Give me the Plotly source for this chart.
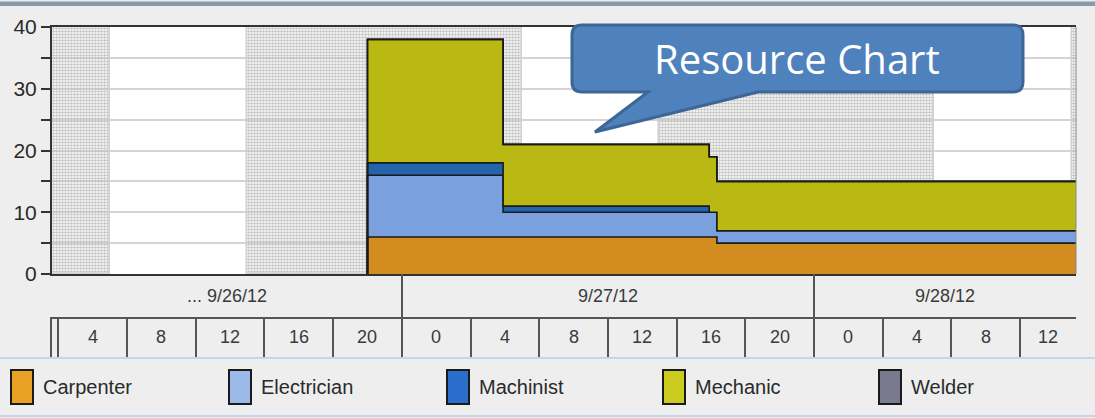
import numpy as np
import plotly.graph_objects as go

# ---------------- data ----------------
resources = ["Carpenter", "Electrician", "Machinist", "Mechanic", "Welder"]
# step boundaries, in hours relative to 9/27/12 00:00
step_start = [-2.0, 5.9, 17.9, 18.35]
window_end = 40.0
carpenter = [6, 6, 6, 5]
electrician = [10, 4, 4, 2]
machinist = [2, 1, 0, 0]
mechanic = [20, 10, 9, 8]
welder = [0, 0, 0, 0]

# non-working periods (hatched background), hours relative to 9/27/12 00:00
offhours_start = [-24, -9, 15, 39]
offhours_end = [-17, 7, 31, 48]

day_starts = [-24, 0, 24]
day_labels = ["... 9/26/12", "9/27/12", "9/28/12"]
hour_ticks = [-20, -16, -12, -8, -4, 0, 4, 8, 12, 16, 20, 24, 28, 32, 36]
hour_labels = ["4", "8", "12", "16", "20", "0", "4", "8", "12", "16", "20", "0", "4", "8", "12"]

x_range = [-20.37, 39.26]
y_range = [0, 40]

fill_colors = ["#D28C20", "#7AA0DE", "#2364AA", "#BAB914", "#76768A"]
legend_colors = ["#E8A025", "#9DB9EA", "#2A6DCB", "#CACB1E", "#7A7A8F"]

# ---------------- layout helpers ----------------
W, H = 1095, 418
ML, MR, MT, MB = 52, 19, 27, 61
PW = W - ML - MR
PH = H - MT - MB


def pxx(x):
    return (x - ML) / PW


def pxy(y):
    return (H - MB - y) / PH


FONT = "Liberation Sans, Arial, sans-serif"

fig = go.Figure()

# hatched non-working bands
mids = [(a + b) / 2 for a, b in zip(offhours_start, offhours_end)]
widths = [b - a for a, b in zip(offhours_start, offhours_end)]
fig.add_trace(go.Bar(
    x=mids, y=[y_range[1]] * len(mids), width=widths, base=0,
    marker=dict(color="rgba(255,255,255,0)",
                line=dict(color="#d0d0d0", width=1.5),
                pattern=dict(shape=".", size=3, solidity=0.55,
                             fgcolor="#c4c4c4", bgcolor="rgba(255,255,255,0)",
                             fillmode="replace")),
    showlegend=False, hoverinfo="skip", xaxis="x", yaxis="y"))

# stacked step areas
series = [carpenter, electrician, machinist, mechanic, welder]
x_pts = [step_start[0]] + step_start + [window_end]
cum = np.zeros(len(step_start))
for i, (name, vals, col) in enumerate(zip(resources, series, fill_colors)):
    cum = cum + np.array(vals, dtype=float)
    y_pts = [0.0] + list(cum) + [cum[-1]]
    fig.add_trace(go.Scatter(
        x=x_pts, y=y_pts, mode="lines", name=name,
        line=dict(shape="hv", color="#1a1a1a", width=1.6),
        fill="tozeroy" if i == 0 else "tonexty", fillcolor=col,
        showlegend=False, hoverinfo="skip", xaxis="x", yaxis="y"))

d_main = [pxy(274), 1.0]
d_day = [pxy(317), pxy(274)]
d_hour = [0.0, pxy(317)]

annotations = []
# date labels centred on visible portion of each day
for s, lab in zip(day_starts, day_labels):
    a = max(s, x_range[0])
    b = min(s + 24, x_range[1])
    annotations.append(dict(x=(a + b) / 2, y=0.5, xref="x2", yref="y2", text=lab,
                            xanchor="center", yanchor="middle",
                            showarrow=False, font=dict(family=FONT, size=18, color="#3a3a3a")))
for t, lab in zip(hour_ticks, hour_labels):
    a = max(t, x_range[0])
    b = min(t + 4, x_range[1])
    annotations.append(dict(x=(a + b) / 2, y=0.5, xref="x3", yref="y3", text=lab,
                            xanchor="center", yanchor="middle",
                            showarrow=False, font=dict(family=FONT, size=18, color="#3a3a3a")))

shapes = []
# white plotting background for the main chart
shapes.append(dict(type="rect", xref="x domain", yref="y domain", x0=0, x1=1, y0=0, y1=1,
                   fillcolor="white", line=dict(width=0), layer="below"))
# right edge of plot
shapes.append(dict(type="line", xref="paper", yref="paper", x0=1, x1=1, y0=d_main[0], y1=1,
                   line=dict(color="#888", width=1)))
# top window bar
shapes.append(dict(type="rect", xref="paper", yref="paper", x0=pxx(0), x1=pxx(W),
                   y0=pxy(6), y1=pxy(1.5), fillcolor="#8a98ac", line=dict(width=0)))
# legend border lines
for yy in (358, 416):
    shapes.append(dict(type="line", xref="paper", yref="paper", x0=pxx(0), x1=pxx(W),
                       y0=pxy(yy), y1=pxy(yy), line=dict(color="#c6d6ea", width=2)))

# custom legend
leg_x = [11, 229, 447, 663, 879]
for lx, name, col in zip(leg_x, resources, legend_colors):
    shapes.append(dict(type="rect", xref="paper", yref="paper",
                       x0=pxx(lx), x1=pxx(lx + 22), y0=pxy(404), y1=pxy(370),
                       fillcolor=col, line=dict(color="#1a1a1a", width=2)))
    annotations.append(dict(x=pxx(lx + 30), y=pxy(387), xref="paper", yref="paper",
                            xanchor="left", yanchor="middle", text=name, showarrow=False,
                            font=dict(family=FONT, size=20, color="#2a2a2a")))

# callout
def P(x, y):
    return f"{pxx(x):.5f},{pxy(y):.5f}"

callout = ("M " + P(582, 25) + " L " + P(1013, 25) + " Q " + P(1023, 25) + " " + P(1023, 35) +
           " L " + P(1023, 82) + " Q " + P(1023, 92) + " " + P(1013, 92) +
           " L " + P(758, 92) + " L " + P(595, 132) + " L " + P(648, 92) +
           " L " + P(582, 92) + " Q " + P(572, 92) + " " + P(572, 82) +
           " L " + P(572, 35) + " Q " + P(572, 25) + " " + P(582, 25) + " Z")
shapes.append(dict(type="path", xref="paper", yref="paper", path=callout,
                   fillcolor="#4F81BD", line=dict(color="#3D6696", width=3), layer="above"))
annotations.append(dict(x=pxx(797), y=pxy(59), xref="paper", yref="paper",
                        xanchor="center", yanchor="middle",
                        text="Resource Chart", showarrow=False,
                        font=dict(family="Open Sans, Noto Sans, sans-serif", size=40, color="white")))

fig.update_layout(
    width=W, height=H,
    margin=dict(l=ML, r=MR, t=MT, b=MB, pad=0, autoexpand=False),
    paper_bgcolor="#EEEEEE", plot_bgcolor="#EEEEEE",
    showlegend=False, bargap=0,
    xaxis=dict(domain=[0, 1], anchor="y", range=x_range, showgrid=False, zeroline=False,
               showticklabels=False, ticks="", showline=True, mirror=True,
               linecolor="#333", linewidth=2),
    yaxis=dict(domain=d_main, anchor="x", range=y_range, dtick=10, tick0=0,
               ticks="outside", ticklen=9, tickwidth=2, tickcolor="#333",
               showgrid=True, gridcolor="#d4d4d4", gridwidth=2, zeroline=False,
               minor=dict(dtick=5, tick0=0, ticks="outside", ticklen=9, tickwidth=2,
                          tickcolor="#333", showgrid=True, gridcolor="#d4d4d4", gridwidth=2),
               showline=True, linecolor="#333", linewidth=2,
               tickfont=dict(family=FONT, size=21, color="#2a2a2a")),
    xaxis2=dict(domain=[0, 1], anchor="y2", range=x_range, tickvals=day_starts,
                showticklabels=False, ticks="", showgrid=True, gridcolor="#555", gridwidth=2,
                zeroline=False, showline=True, linecolor="#555", linewidth=2),
    yaxis2=dict(domain=d_day, anchor="x2", range=[0, 1], visible=False),
    xaxis3=dict(domain=[0, 1], anchor="y3", range=x_range, tickvals=hour_ticks,
                showticklabels=False, ticks="", showgrid=True, gridcolor="#555", gridwidth=2,
                zeroline=False, showline=True, linecolor="#555", linewidth=2),
    yaxis3=dict(domain=d_hour, anchor="x3", range=[0, 1], showticklabels=False, ticks="",
                showgrid=False, zeroline=False, showline=True, linecolor="#555", linewidth=2),
    shapes=shapes,
    annotations=annotations,
)

fig.write_html("out.html", config={"displayModeBar": False},
               post_script="document.body.style.margin='0px';document.body.style.overflow='hidden';")
